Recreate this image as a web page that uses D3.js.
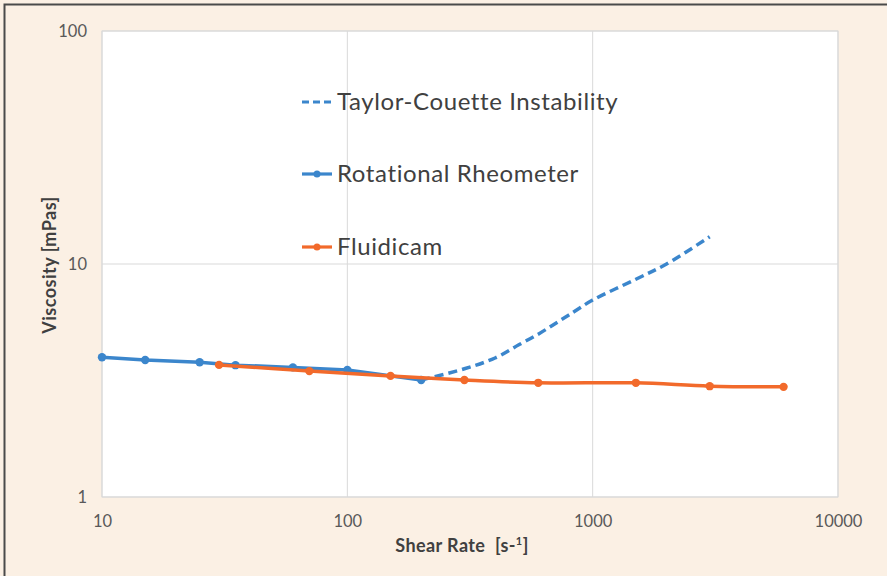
<!DOCTYPE html>
<html><head><meta charset="utf-8">
<script src="https://cdn.jsdelivr.net/npm/d3@7"></script>
<style>html,body{margin:0;padding:0;background:#FBF0E4;}svg{display:block;}</style>
</head><body>
<script>
const xTicks = [10, 100, 1000, 10000];
const yTicks = [1, 10, 100];
const rheoX = [10, 15, 25, 35, 60, 100, 200];
const rheoY = [3.98, 3.87, 3.79, 3.68, 3.60, 3.51, 3.18];
const fluidX = [30, 70, 150, 300, 600, 1500, 3000, 6000];
const fluidY = [3.69, 3.47, 3.31, 3.18, 3.09, 3.09, 2.99, 2.97];
const tcX = [200, 300, 400, 500, 600, 700, 800, 1000, 1500, 2000, 3000];
const tcY = [3.18, 3.55, 3.95, 4.5, 5.0, 5.53, 6.04, 7.0, 8.6, 10.0, 13.1];
const legendLabels = ["Taylor-Couette Instability", "Rotational Rheometer", "Fluidicam"];

const W = 887, H = 576;
const m = {left: 102, right: 838, top: 31, bottom: 497};
const blue = "#3B86CC", orange = "#F26A2B";
const font = "Lato, 'Open Sans', sans-serif";

const svg = d3.select("body").append("svg").attr("width", W).attr("height", H);
svg.append("rect").attr("x", 0).attr("y", 0).attr("width", W).attr("height", H).attr("fill", "#FBF0E4");
svg.append("path").attr("d", `M4.5,${H} V4.5 H${W}`).attr("fill", "none").attr("stroke", "#4a4a4a").attr("stroke-width", 2);

const x = d3.scaleLog().domain([10, 10000]).range([m.left, m.right]);
const y = d3.scaleLog().domain([1, 100]).range([m.bottom, m.top]);

svg.append("rect").attr("x", m.left).attr("y", m.top).attr("width", m.right - m.left).attr("height", m.bottom - m.top)
  .attr("fill", "#fff").attr("stroke", "#d9d9d9").attr("stroke-width", 1);

// grid
svg.append("g").selectAll("line").data(xTicks).join("line")
  .attr("x1", d => x(d)).attr("x2", d => x(d)).attr("y1", m.top).attr("y2", m.bottom)
  .attr("stroke", "#d9d9d9").attr("stroke-width", 1);
svg.append("g").selectAll("line").data(yTicks).join("line")
  .attr("y1", d => y(d)).attr("y2", d => y(d)).attr("x1", m.left).attr("x2", m.right)
  .attr("stroke", "#d9d9d9").attr("stroke-width", 1);

// axes
const xAxis = d3.axisBottom(x).tickValues(xTicks).tickFormat(d3.format("d")).tickSize(0).tickPadding(18);
const gx = svg.append("g").attr("transform", `translate(0,${m.bottom})`).call(xAxis);
const yAxis = d3.axisLeft(y).tickValues(yTicks).tickFormat(d3.format("d")).tickSize(0).tickPadding(15);
const gy = svg.append("g").attr("transform", `translate(${m.left},0)`).call(yAxis);
[gx, gy].forEach(g => {
  g.select(".domain").remove();
  g.selectAll("text").attr("font-family", font).attr("font-size", 16.5).attr("fill", "#595959");
});

// axis titles
const xt = svg.append("text").attr("x", 462).attr("y", 552).attr("text-anchor", "middle")
  .attr("font-family", font).attr("font-size", 18).attr("font-weight", "bold").attr("fill", "#404040")
  .attr("letter-spacing", 0.4);
xt.append("tspan").text("Shear Rate\u00A0\u00A0[s-");
xt.append("tspan").attr("font-size", 11).attr("dy", -7).text("1");
xt.append("tspan").attr("dy", 7).text("]");
svg.append("text").attr("transform", "translate(56,265) rotate(-90)").attr("text-anchor", "middle")
  .attr("font-family", font).attr("font-size", 18).attr("font-weight", "bold").attr("fill", "#404040")
  .attr("letter-spacing", 0.5)
  .text("Viscosity [mPas]");

const line = d3.line().x(d => x(d[0])).y(d => y(d[1])).curve(d3.curveCatmullRom.alpha(0.5));
const lineStraight = d3.line().x(d => x(d[0])).y(d => y(d[1]));
const rheo = rheoX.map((v, i) => [v, rheoY[i]]);
const fluid = fluidX.map((v, i) => [v, fluidY[i]]);
const tc = tcX.map((v, i) => [v, tcY[i]]);

svg.append("path").datum(tc).attr("d", line).attr("fill", "none").attr("stroke", blue)
  .attr("stroke-width", 3.5).attr("stroke-dasharray", "9,5");
svg.append("path").datum(rheo).attr("d", lineStraight).attr("fill", "none").attr("stroke", blue).attr("stroke-width", 3.5);
svg.append("g").selectAll("circle").data(rheo).join("circle")
  .attr("cx", d => x(d[0])).attr("cy", d => y(d[1])).attr("r", 4.2).attr("fill", blue);
svg.append("path").datum(fluid).attr("d", line).attr("fill", "none").attr("stroke", orange).attr("stroke-width", 3.5);
svg.append("g").selectAll("circle").data(fluid).join("circle")
  .attr("cx", d => x(d[0])).attr("cy", d => y(d[1])).attr("r", 4.2).attr("fill", orange);

// legend
const legY = [102, 174, 247];
const lg = svg.append("g");
legendLabels.forEach((lab, i) => {
  const col = i === 2 ? orange : blue;
  const ly = legY[i];
  const l = lg.append("line").attr("x1", 302).attr("x2", 332).attr("y1", ly).attr("y2", ly)
    .attr("stroke", col).attr("stroke-width", 3.2);
  if (i === 0) l.attr("stroke-dasharray", "7,4");
  else lg.append("circle").attr("cx", 317).attr("cy", ly).attr("r", 3.5).attr("fill", col);
  lg.append("text").attr("x", 337).attr("y", ly + 8).attr("font-family", font).attr("font-size", 24)
    .attr("letter-spacing", 0.6).attr("fill", "#404040").text(lab);
});
</script>
</body></html>
